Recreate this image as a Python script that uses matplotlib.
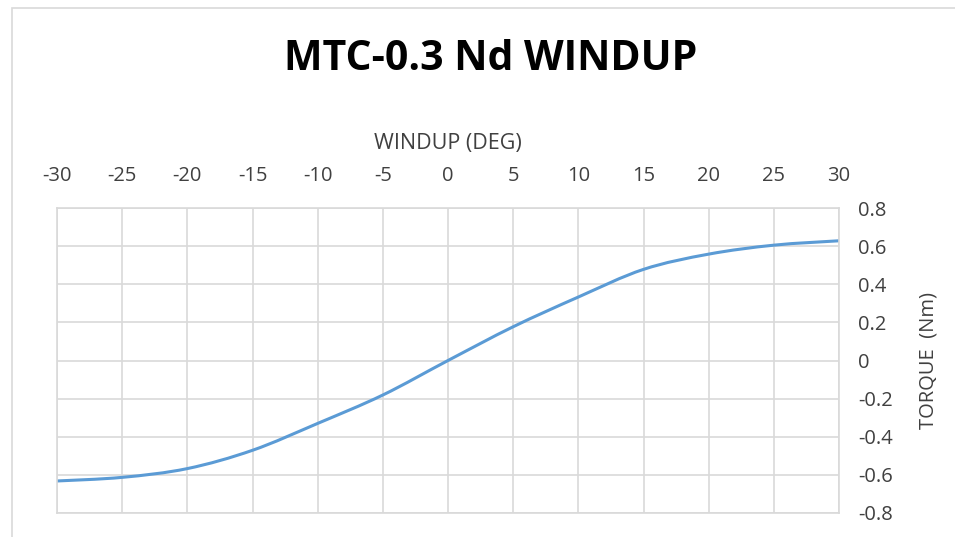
import matplotlib.pyplot as plt
from matplotlib.patches import Rectangle, PathPatch
from matplotlib.path import Path

# windup angle (deg) and measured torque (Nm)
windup_deg = [-30, -25, -20, -15, -10, -5, 0, 5, 10, 15, 20, 25, 30]
torque_nm = [-0.632, -0.613, -0.567, -0.471, -0.330, -0.181, 0.0,
             0.177, 0.333, 0.478, 0.558, 0.605, 0.628]

x_ticks = list(range(-30, 31, 5))
y_ticks = [-0.8, -0.6, -0.4, -0.2, 0, 0.2, 0.4, 0.6, 0.8]
y_tick_labels = ['-0.8', '-0.6', '-0.4', '-0.2', '0', '0.2', '0.4', '0.6', '0.8']

plt.rcParams['font.family'] = ['Open Sans', 'DejaVu Sans']
text_grey = '#404040'
grid_grey = '#d9d9d9'


def smooth_path(xs, ys, k=1 / 6):
    # Excel-style smoothed line: Catmull-Rom segments as cubic Beziers
    verts = [(xs[0], ys[0])]
    codes = [Path.MOVETO]
    n = len(xs)
    for i in range(n - 1):
        x0, y0 = xs[max(i - 1, 0)], ys[max(i - 1, 0)]
        x1, y1 = xs[i], ys[i]
        x2, y2 = xs[i + 1], ys[i + 1]
        x3, y3 = xs[min(i + 2, n - 1)], ys[min(i + 2, n - 1)]
        verts += [(x1 + (x2 - x0) * k, y1 + (y2 - y0) * k),
                  (x2 - (x3 - x1) * k, y2 - (y3 - y1) * k),
                  (x2, y2)]
        codes += [Path.CURVE4] * 3
    return Path(verts, codes)


fig = plt.figure(figsize=(9.55, 5.37), dpi=100)

# light chart-area border (runs off the right and bottom edges)
fig.patches.append(Rectangle((12 / 955, -0.1), 1.1, 1 - 8 / 537 + 0.1,
                             transform=fig.transFigure, fill=False,
                             edgecolor=grid_grey, linewidth=1.2))

ax = fig.add_axes([57 / 955, 24 / 537, 782 / 955, 305 / 537])
ax.add_patch(PathPatch(smooth_path(windup_deg, torque_nm), fill=False,
                       edgecolor='#5b9bd5', linewidth=2.2, capstyle='round'))

ax.set_xlim(-30, 30)
ax.set_ylim(-0.8, 0.8)
ax.set_xticks(x_ticks)
ax.set_xticklabels([str(v) for v in x_ticks])
ax.set_yticks(y_ticks)
ax.set_yticklabels(y_tick_labels)

ax.xaxis.tick_top()
ax.xaxis.set_label_position('top')
ax.yaxis.tick_right()
ax.yaxis.set_label_position('right')
ax.tick_params(length=0, labelsize=14.5, labelcolor=text_grey)
ax.tick_params(axis='x', pad=16)
ax.tick_params(axis='y', pad=14)
for lbl in ax.get_yticklabels():
    lbl.set_horizontalalignment('left')

ax.set_xlabel('WINDUP (DEG)', fontsize=15.5, color=text_grey, labelpad=12)
ax.set_ylabel('TORQUE  (Nm)', fontsize=14.5, color=text_grey, labelpad=18)

ax.grid(True, color=grid_grey, linewidth=1.2)
ax.set_axisbelow(True)
for s in ax.spines.values():
    s.set_color(grid_grey)
    s.set_linewidth(1.2)

fig.text(491 / 955, 1 - 60 / 537, 'MTC-0.3 Nd WINDUP', ha='center', va='center',
         fontsize=29.5, fontweight='bold', color='black')

fig.savefig('out.png', dpi=100)
